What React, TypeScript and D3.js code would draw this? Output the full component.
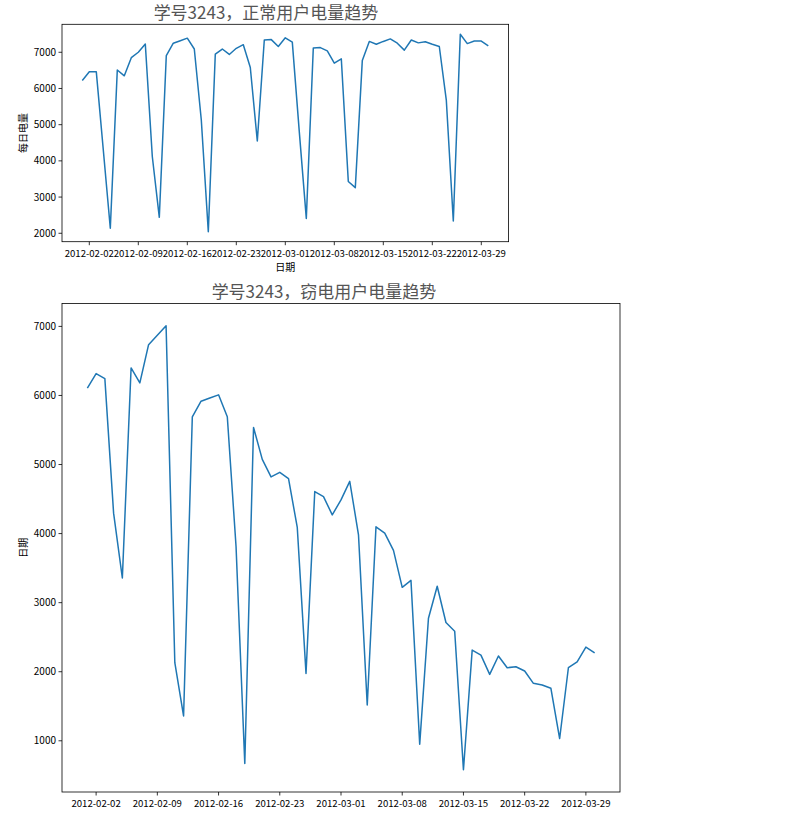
import React from "react";
import * as d3 from "d3";

const startDate = new Date(2012, 1, 1);
const normalUsage = [
  6220, 6460, 6460, 4300, 2140, 6510, 6350, 6850, 7000, 7230,
  4120, 2440, 6910, 7250, 7320, 7390, 7090, 5130, 2040, 6950,
  7090, 6940, 7110, 7210, 6580, 4550, 7340, 7350, 7160, 7400,
  7280, 4800, 2410, 7120, 7130, 7040, 6700, 6820, 3430, 3260,
  6770, 7300, 7220, 7300, 7370, 7250, 7060, 7340, 7260, 7290,
  7220, 7160, 5680, 2340, 7500, 7240, 7310, 7310, 7180,
];
const theftUsage = [
  6105, 6317, 6244, 4296, 3357, 6398, 6182, 6735, 6872, 7010,
  2130, 1360, 5691, 5917, 5963, 6009, 5691, 3814, 672, 5537,
  5075, 4820, 4887, 4796, 4089, 1976, 4608, 4536, 4271, 4488,
  4757, 3983, 1519, 4098, 4007, 3757, 3222, 3323, 951, 2775,
  3237, 2712, 2587, 580, 2313, 2241, 1962, 2227, 2058, 2072,
  2010, 1832, 1808, 1760, 1033, 2058, 2144, 2356, 2274,
];
const topTicksY = [2000, 3000, 4000, 5000, 6000, 7000];
const bottomTicksY = [1000, 2000, 3000, 4000, 5000, 6000, 7000];
const tickDates = ["2012-02-02", "2012-02-09", "2012-02-16", "2012-02-23", "2012-03-01", "2012-03-08", "2012-03-15", "2012-03-22", "2012-03-29"];
const titles = ["学号3243，正常用户电量趋势", "学号3243，窃电用户电量趋势"];
const yLabels = ["每日电量", "日期"];
const xLabel = "日期";

const parse = d3.timeParse("%Y-%m-%d");
const fmt = d3.timeFormat("%Y-%m-%d");
const FONT = "'Noto Sans CJK SC', 'Noto Sans', sans-serif";

type Box = { left: number; right: number; top: number; bottom: number };

function Panel({ values, box, yTicks, title, titleX, yLabel, xLab, tickFont }: {
  values: number[]; box: Box; yTicks: number[]; title: string; titleX: number; yLabel: string; xLab?: string; tickFont: number;
}) {
  const dates = values.map((_, i) => d3.timeDay.offset(startDate, i));
  const t0 = +dates[0], t1 = +dates[dates.length - 1];
  const tp = (t1 - t0) * 0.05;
  const x = d3.scaleTime().domain([new Date(t0 - tp), new Date(t1 + tp)]).range([box.left, box.right]);
  const [mn, mx] = d3.extent(values) as [number, number];
  const vp = (mx - mn) * 0.05;
  const y = d3.scaleLinear().domain([mn - vp, mx + vp]).range([box.bottom, box.top]);
  const line = d3.line<number>().x((_, i) => x(dates[i])).y((v) => y(v));
  const ticks = tickDates.map((s) => parse(s)!);
  return (
    <g>
      <text x={titleX} y={box.top - 5.5} textAnchor="middle" fontSize={17} fill="#555" fontFamily={FONT}>{title}</text>
      <path d={line(values)!} fill="none" stroke="#1f77b4" strokeWidth={1.5} strokeLinejoin="round" />
      <rect x={box.left} y={box.top} width={box.right - box.left} height={box.bottom - box.top} fill="none" stroke="#000" strokeWidth={0.8} />
      {yTicks.map((v) => (
        <g key={v}>
          <line x1={box.left - 3.5} x2={box.left} y1={y(v)} y2={y(v)} stroke="#000" strokeWidth={0.8} />
          <text x={box.left - 6} y={y(v)} dy="0.35em" textAnchor="end" fontSize={10} fill="#000" fontFamily={FONT}>{v}</text>
        </g>
      ))}
      {ticks.map((d) => (
        <g key={+d}>
          <line x1={x(d)} x2={x(d)} y1={box.bottom} y2={box.bottom + 3.5} stroke="#000" strokeWidth={0.8} />
          <text x={x(d)} y={box.bottom + 15} textAnchor="middle" fontSize={tickFont} fill="#000" fontFamily={FONT}>{fmt(d)}</text>
        </g>
      ))}
      <text transform={`translate(27,${(box.top + box.bottom) / 2}) rotate(-90)`} textAnchor="middle" fontSize={10} fill="#000" fontFamily={FONT}>{yLabel}</text>
      {xLab && (
        <text x={(box.left + box.right) / 2} y={box.bottom + 29} textAnchor="middle" fontSize={10} fill="#000" fontFamily={FONT}>{xLab}</text>
      )}
    </g>
  );
}

export default function App() {
  return (
    <svg width={795} height={813} style={{ position: "absolute", left: 0, top: 0, background: "#fff" }}>
      <rect width={795} height={813} fill="#fff" />
      <Panel values={normalUsage} box={{ left: 62, right: 508.6, top: 24.3, bottom: 241.7 }} yTicks={topTicksY}
        title={titles[0]} titleX={266} yLabel={yLabels[0]} xLab={xLabel} tickFont={9.6} />
      <Panel values={theftUsage} box={{ left: 62, right: 620, top: 303.5, bottom: 792 }} yTicks={bottomTicksY}
        title={titles[1]} titleX={324} yLabel={yLabels[1]} tickFont={9.6} />
    </svg>
  );
}
